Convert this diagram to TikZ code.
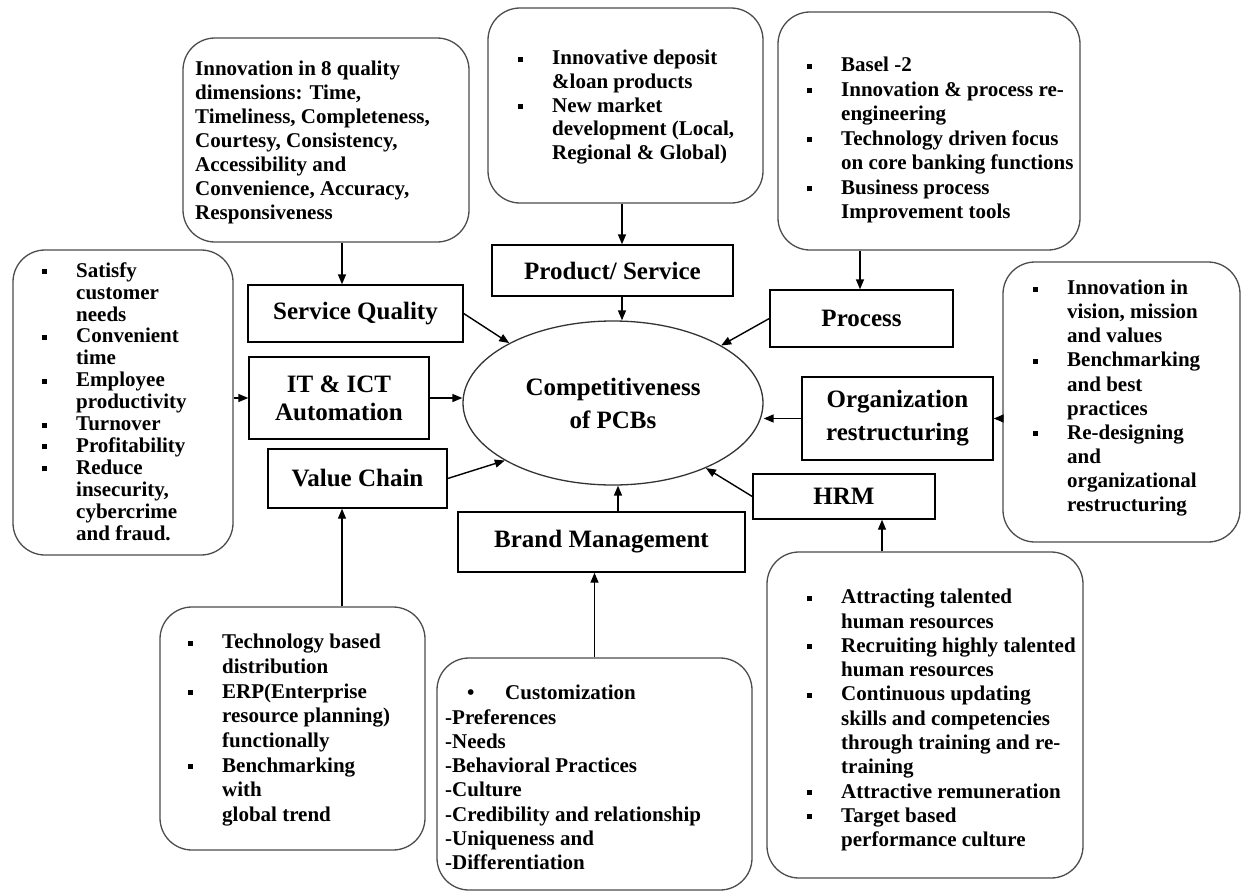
\documentclass[tikz,border=0pt]{standalone}
\usepackage{fontspec}
\setmainfont{Liberation Serif}
\usetikzlibrary{arrows.meta,shapes.geometric}
\newcommand{\bt}[1]{\fontsize{21}{#1}\selectfont\bfseries}
\newcommand{\lt}[1]{\fontsize{25}{#1}\selectfont\bfseries}
\newcommand{\mybul}{\makebox[34pt][l]{\rule[3pt]{4.5pt}{5pt}}}
\newcommand{\mycont}{\hspace*{34pt}}
\begin{document}
\begin{tikzpicture}[x=1pt,y=-1pt,
  rbox/.style={draw=black!70, line width=1.3pt, rounded corners=32pt, inner sep=0pt},
  lbox/.style={draw=black, line width=1.4pt, inner sep=0pt, align=center},
  txt/.style={inner sep=0pt, align=left, anchor=north west},
  arr/.style={line width=1.4pt, -{Triangle[length=10pt,width=8pt]}}]
\fill[white] (0,0) rectangle (1243,894);
\useasboundingbox (0,0) rectangle (1243,894);

% rounded boxes
\node[rbox, minimum width=286, minimum height=204] (tl) at (326,140) {};
\node[rbox, minimum width=275, minimum height=195] (tc) at (625.5,105.5) {};
\node[rbox, minimum width=302, minimum height=238] (tr) at (929,131) {};
\node[rbox, minimum width=220, minimum height=305] (lb) at (123,402.5) {};
\node[rbox, minimum width=237, minimum height=280] (rb) at (1121.5,402) {};
\node[rbox, minimum width=265, minimum height=243] (bl) at (292.5,728.5) {};
\node[rbox, minimum width=315, minimum height=232] (bc) at (594.5,774) {};
\node[rbox, minimum width=316, minimum height=326] (br) at (925,715) {};

% label boxes
\node[lbox, font={\lt{28}}, minimum width=241, minimum height=51] (ps) at (612.5,270.5) {Product/ Service};
\node[lbox, font={\lt{28}}, minimum width=215, minimum height=57] (sq) at (355.5,313.5) {Service Quality};
\node[lbox, font={\lt{28}}, minimum width=180, minimum height=82] (it) at (339,398) {IT \& ICT\\Automation};
\node[lbox, font={\lt{28}}, minimum width=179, minimum height=59] (vc) at (357.5,478.5) {Value Chain};
\node[lbox, font={\lt{28}}, minimum width=183, minimum height=57] (pr) at (861.5,318.5) {Process};
\node[lbox, font={\lt{33}}, minimum width=191, minimum height=83] (org) at (897.5,418.5) {Organization\\restructuring};
\node[lbox, font={\lt{28}}, minimum width=182, minimum height=45] (hrm) at (844,496.5) {HRM};
\node[lbox, font={\lt{28}}, minimum width=287, minimum height=60] (bm) at (601.5,542) {Brand Management};
\node[ellipse, draw=black!80, line width=1.3pt, inner sep=0pt, align=center, font={\lt{33}},
      minimum width=300, minimum height=164] (ell) at (613,403) {Competitiveness\\of PCBs};

% texts
\node[txt, font={\bt{24}}] (tlt) at (195,58.2) {\strut Innovation in 8 quality\\dimensions: Time,\\Timeliness, Completeness,\\Courtesy, Consistency,\\Accessibility and\\Convenience, Accuracy,\\Responsiveness};
\node[txt, font={\bt{23.7}}] (tct) at (518,47.9) {\strut\mybul Innovative deposit\\\mycont\&loan products\\\mybul New market\\\mycont development (Local,\\\mycont Regional \& Global)};
\node[txt, font={\bt{24.5}}] (trt) at (807,54.4) {\strut\mybul Basel -2\\\mybul Innovation \& process re-\\\mycont engineering\\\mybul Technology driven focus\\\mycont on core banking functions\\\mybul Business process\\\mycont Improvement tools};
\node[txt, font={\bt{21.9}}] (lbt) at (42,261.7) {\strut\mybul Satisfy\\\mycont customer\\\mycont needs\\\mybul Convenient\\\mycont time\\\mybul Employee\\\mycont productivity\\\mybul Turnover\\\mybul Profitability\\\mybul Reduce\\\mycont insecurity,\\\mycont cybercrime\\\mycont and fraud.};
\node[txt, font={\bt{24.1}}] (rbt) at (1033,277.6) {\strut\mybul Innovation in\\\mycont vision, mission\\\mycont and values\\\mybul Benchmarking\\\mycont and best\\\mycont practices\\\mybul Re-designing\\\mycont and\\\mycont organizational\\\mycont restructuring};
\node[txt, font={\bt{24.7}}] (blt) at (188,631.2) {\strut\mybul Technology based\\\mycont distribution\\\mybul ERP(Enterprise\\\mycont resource planning)\\\mycont functionally\\\mybul Benchmarking\\\mycont with\\\mycont global trend};
\node[txt, font={\bt{24.3}}] (bct) at (445,682.5) {\strut\hspace*{22pt}\makebox[38pt][l]{\textbullet}Customization\\-Preferences\\-Needs\\-Behavioral Practices\\-Culture\\-Credibility and relationship\\-Uniqueness and\\-Differentiation};
\node[txt, font={\bt{24.3}}] (brt) at (807,586.5) {\strut\mybul Attracting talented\\\mycont human resources\\\mybul Recruiting highly talented\\\mycont human resources\\\mybul Continuous updating\\\mycont skills and competencies\\\mycont through training and re-\\\mycont training\\\mybul Attractive remuneration\\\mybul Target based\\\mycont performance culture};

% helper x positions
\coordinate (xa) at (342,0);
\coordinate (xb) at (622,0);
\coordinate (xc) at (618,0);
\coordinate (xd) at (882,0);
\coordinate (xe) at (860,0);

% connectors
\draw[arr] (tl.south -| xa) -- (sq.north -| xa);
\draw[arr] (tc.south -| xb) -- (ps.north -| xb);
\draw[arr] (ps.south -| xb) -- (ell.north -| xb);
\draw[arr] (tr.south -| xe) -- (pr.north -| xe);
\draw[arr] (sq.east) -- (ell.150);
\draw[arr] (it.east) -- (ell.west |- it.east);
\draw[arr] (vc.east) -- (ell.208);
\draw[arr] (pr.west) -- (ell.28);
\draw[arr] (org.west) -- (ell.east |- org.west);
\draw[arr] (hrm.west) -- (ell.325);
\draw[arr] (bm.north -| xc) -- (ell.south -| xc);
\draw[arr] (bc.north) -- (bm.south -| bc.north);
\draw[arr] (br.north -| xd) -- (hrm.south -| xd);
\draw[arr] (bl.north -| xa) -- (vc.south -| xa);
\draw[arr] (it.west -| lb.east) -- (it.west);
\draw[arr] (org.east -| rb.west) -- (org.east);
\end{tikzpicture}
\end{document}
